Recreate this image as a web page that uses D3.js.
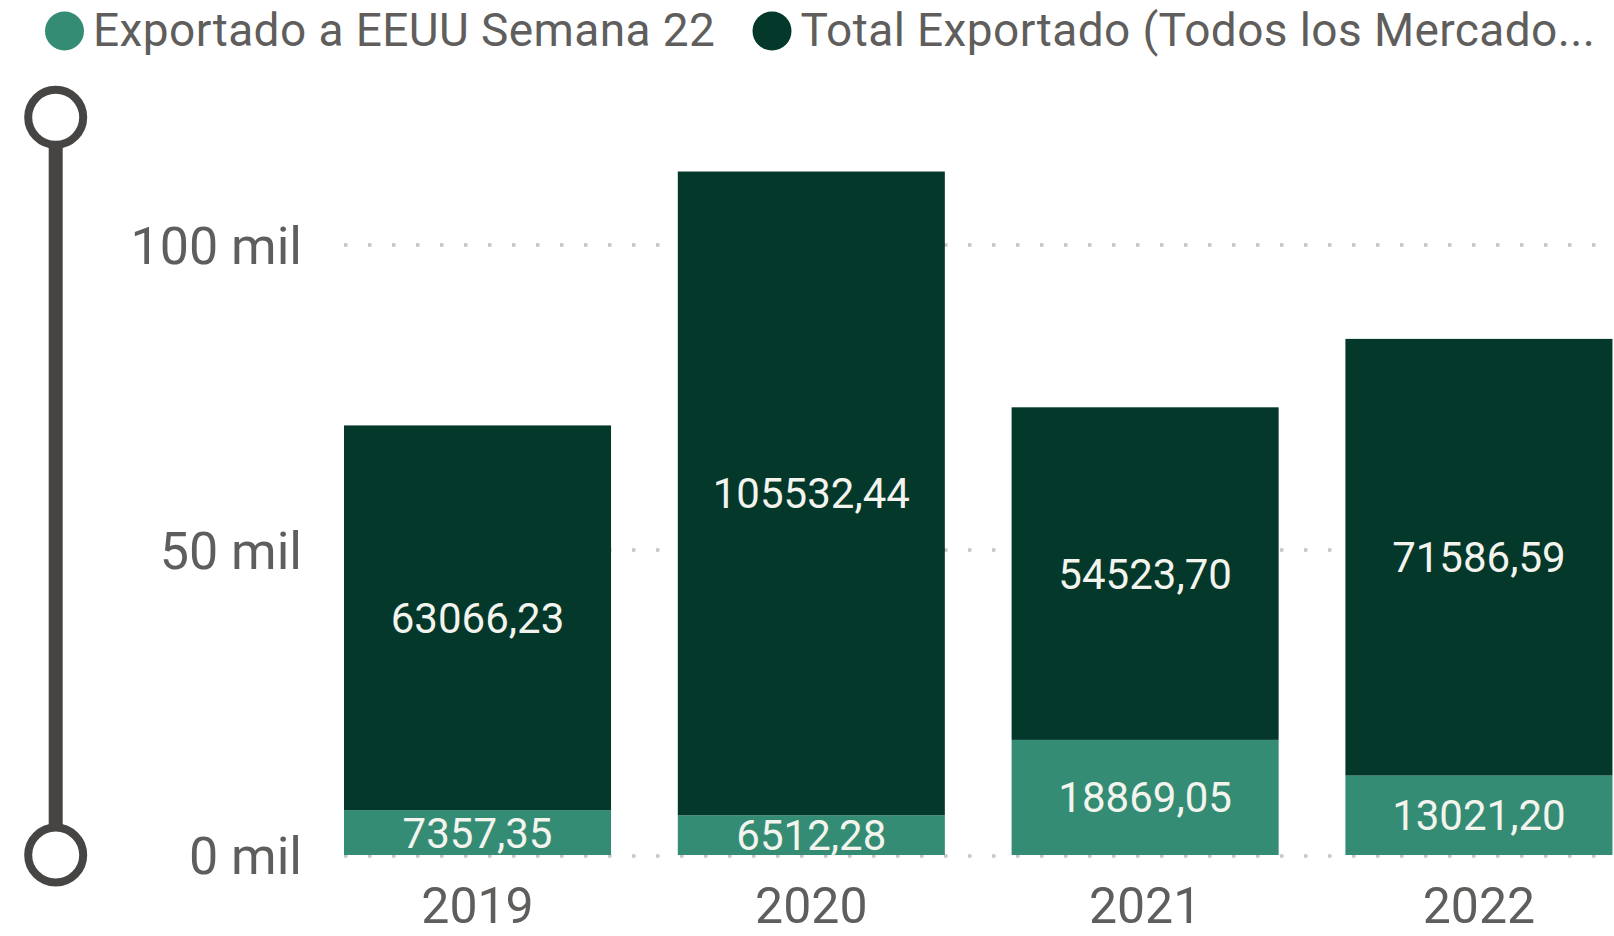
<!DOCTYPE html>
<html>
  <head>
    <meta charset="utf-8">
    <script src="https://d3js.org/d3.v7.min.js"></script>
    <style type="text/css">
      body { margin: 0; background: #fff; }
      svg text { font-family: 'Roboto', 'DejaVu Sans', sans-serif; }
    </style>
  </head>
  <body>
    <div id="container"></div>

    <script>
      /* Data */
      /* ==== */

      var years = ["2019", "2020", "2021", "2022"];
      var eeuu = [7357.35, 6512.28, 18869.05, 13021.20];
      var totalMercados = [63066.23, 105532.44, 54523.70, 71586.59];
      var yTicks = [0, 50000, 100000];
      var yTickLabels = ["0 mil", "50 mil", "100 mil"];
      var seriesNames = ["Exportado a EEUU Semana 22", "Total Exportado (Todos los Mercado..."];
      var seriesColors = ["#358c74", "#03382a"];

      /* Set up */
      /* ====== */

      var width = 1614,
          height = 936;

      var svg = d3.select('#container')
        .append('svg')
        .attr('width', width)
        .attr('height', height);

      var x = d3.scaleBand()
        .domain(years)
        .range([344, 344 + 4 * 333.8 - 0.2 * 333.8])
        .paddingInner(0.2)
        .paddingOuter(0);

      var y = d3.scaleLinear()
        .domain([0, 100000])
        .range([855, 245]);

      // stacked rows: eeuu at the bottom, total on top
      var rows = years.map(function(d, i) {
        return { year: d, eeuu: eeuu[i], total: totalMercados[i] };
      });
      var stack = d3.stack().keys(["eeuu", "total"]);
      var series = stack(rows);

      /* Gridlines */
      /* --------- */

      svg.append('g')
        .selectAll('line')
        .data(yTicks)
        .join('line')
        .attr('x1', 344)
        .attr('x2', width)
        .attr('y1', d => y(d) + (d === 0 ? 1 : 0))
        .attr('y2', d => y(d) + (d === 0 ? 1 : 0))
        .attr('stroke', '#c8c6c4')
        .attr('stroke-width', 3.5)
        .attr('stroke-dasharray', '3.5,20.5');

      /* Y axis labels */
      svg.append('g')
        .selectAll('text')
        .data(yTicks)
        .join('text')
        .attr('x', 302)
        .attr('y', d => y(d) + 19)
        .attr('text-anchor', 'end')
        .attr('fill', '#605e5c')
        .style('font-size', '52px')
        .text((d, i) => yTickLabels[i]);

      /* Bars */
      /* ---- */

      var layer = svg.append('g')
        .selectAll('g')
        .data(series)
        .join('g')
        .attr('fill', (d, i) => seriesColors[i]);

      layer.selectAll('rect')
        .data(d => d)
        .join('rect')
        .attr('x', d => x(d.data.year))
        .attr('width', x.bandwidth())
        .attr('y', d => y(d[1]))
        .attr('height', d => y(d[0]) - y(d[1]));

      // data labels, centred inside each segment
      layer.selectAll('text')
        .data(d => d)
        .join('text')
        .attr('x', d => x(d.data.year) + x.bandwidth() / 2)
        .attr('y', d => (y(d[0]) + y(d[1])) / 2 + 15)
        .attr('text-anchor', 'middle')
        .attr('fill', '#f4f4ee')
        .style('font-size', '42px')
        .text(d => d3.format(".2f")(d[1] - d[0]).replace('.', ','));

      /* X axis labels */
      svg.append('g')
        .selectAll('text')
        .data(years)
        .join('text')
        .attr('x', d => x(d) + x.bandwidth() / 2)
        .attr('y', 923)
        .attr('text-anchor', 'middle')
        .attr('fill', '#605e5c')
        .style('font-size', '50px')
        .text(d => d);

      /* Legend */
      /* ------ */

      var legendX = [64.5, 772];
      var legend = svg.append('g')
        .selectAll('g')
        .data(seriesNames)
        .join('g')
        .attr('transform', (d, i) => 'translate(' + legendX[i] + ',31)');

      legend.append('circle')
        .attr('r', 19.5)
        .attr('fill', (d, i) => seriesColors[i]);

      legend.append('text')
        .attr('x', 28.5)
        .attr('y', 15)
        .attr('fill', '#605e5c')
        .style('font-size', '46px')
        .style('letter-spacing', '0.4px')
        .text(d => d);

      /* Slider on the left */
      /* ------------------ */

      var sliderTop = 117.3;
      var slider = svg.append('g').attr('stroke', '#474543').attr('fill', 'none');

      slider.append('line')
        .attr('x1', 55.7).attr('x2', 55.7)
        .attr('y1', sliderTop + 28).attr('y2', y(0) - 28)
        .attr('stroke-width', 14);

      slider.selectAll('circle')
        .data([y(0), sliderTop])
        .join('circle')
        .attr('cx', 55.7)
        .attr('cy', d => d)
        .attr('r', 27.5)
        .attr('fill', '#fff')
        .attr('stroke-width', 8);
    </script>
  </body>
</html>
